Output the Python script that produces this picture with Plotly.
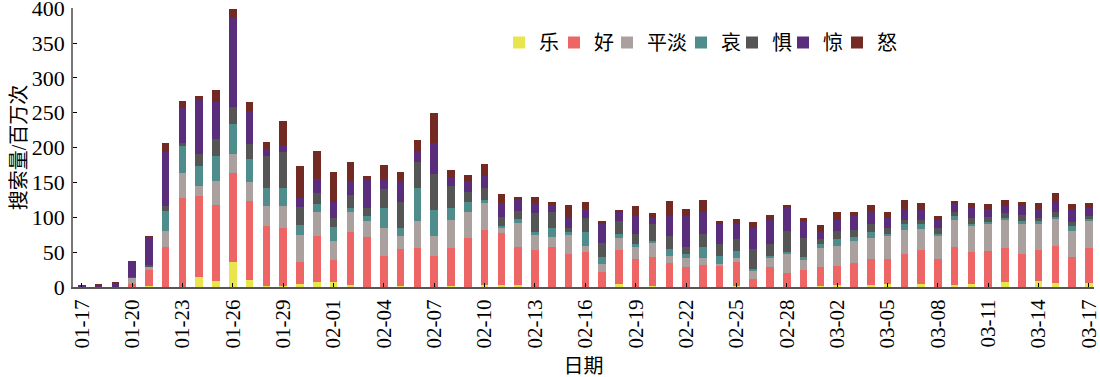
import pandas as pd
import plotly.graph_objects as go

dates = [d.strftime("%m-%d") for d in pd.date_range("2020-01-17", "2020-03-17")]

le = [0, 0, 0, 0, 2, 0, 0, 15, 9, 36, 10, 2, 2, 5, 7.5, 7, 3, 0, 0, 2, 0, 0, 2, 0, 3, 3, 3, 0, 0, 0,
      0, 0, 5, 0, 1.5, 0, 0, 0, 0, 2, 0, 0, 0, 0, 2, 2.5, 0, 2.5, 5, 0, 5, 0, 2.5, 5, 0, 6.5, 0, 8, 6, 0, 6]
hao = [0, 0.5, 0, 4, 23, 58, 128, 115, 108, 127, 114, 85, 83, 31, 66, 32, 76, 72, 45, 52, 56, 44, 54, 70, 79, 75, 54, 53, 58, 47,
       50, 22, 48, 40, 42, 34, 29, 31, 31, 34, 12, 29, 20, 24.5, 27, 27, 34, 38, 35, 48, 48, 40, 55, 45, 51, 50, 47, 45, 53, 43, 50]
pingdan = [0, 0, 0, 9, 3, 22, 35, 15, 35, 28, 26, 29, 31, 39, 33.5, 26.5, 28, 23, 39, 19, 39, 29, 40, 38, 38, 6, 35, 23, 14, 28,
           9, 11, 17.5, 18.5, 19, 10.5, 13, 11, 2.5, 6, 10.5, 13.5, 27, 14, 27, 30, 32, 30, 32.5, 34.5, 30, 32.5, 38, 37, 39, 39, 43, 37, 38, 38, 39]
ai = [0, 0, 0, 0, 0, 29, 39, 29, 36, 42.5, 33, 25.5, 25.5, 14, 12, 20, 6, 7, 30, 12, 47, 38, 18, 14, 5, 3, 6, 2.5, 13, 3.5,
      19.5, 10.5, 5, 2.5, 3.5, 10, 5, 15, 10.5, 9.5, 4, 1.5, 3.5, 5, 5, 9, 6, 8.5, 3, 8, 8, 4, 6, 3.5, 3.5, 4, 4, 5, 3.5, 6, 2.5]
ju = [0, 0, 0, 1, 3, 7, 5, 17.5, 25, 25, 22, 46, 52, 26, 15.5, 13, 19.5, 11, 27, 37, 38, 50.5, 31, 14, 17, 14, 11, 28, 23, 5.5,
      20, 19, 18.5, 15.5, 25, 19, 11, 18.5, 17.5, 17, 28, 18, 30, 26.5, 8.5, 12.5, 9.5, 11.5, 9, 5.5, 5.5, 8.5, 5.5, 8.5, 7.5, 7, 9.5, 4.5, 7, 6.5, 4.5]
jing = [3, 2, 6, 23, 41, 77, 49.5, 78, 53, 127, 47, 11, 9, 12, 21, 23, 20, 42, 14, 30.5, 15.5, 44.5, 11, 16, 17.5, 20, 15.5, 13.5, 9, 15,
        14, 28, 13, 25, 8, 28.5, 43.5, 32.5, 29, 22, 30, 34, 34.5, 24, 10, 15, 20, 18.5, 14, 16.5, 14.5, 10.5, 12.5, 14, 11.5, 9.5, 13, 12, 16.5, 19, 12]
nu = [0, 1, 0.5, 0, 0.5, 13, 10, 4, 16.5, 13, 14, 9.5, 35, 47, 39, 44, 27, 4, 19.5, 12.5, 16, 44, 12, 8, 16.5, 13, 4, 8.5, 5.5, 18,
      9.5, 3.5, 3.5, 15, 7, 21, 10.5, 16.5, 4, 6.5, 8.5, 7.5, 2.5, 5, 10, 12, 5.5, 8.5, 9.5, 12, 9, 7, 4.5, 7.5, 7, 9, 5.5, 9, 10.5, 7, 6.5]

series_names = ["乐", "好", "平淡", "哀", "惧", "惊", "怒"]
series_values = [le, hao, pingdan, ai, ju, jing, nu]
colors = ["#e8e64c", "#ee6565", "#aaa19e", "#4f8c8c", "#555555", "#5a2c7c", "#732a22"]

# layout geometry (pixels)
W, H = 1100, 377
ML, MR, MT, MB = 73, 6, 8, 90
PW, PH = W - ML - MR, H - MT - MB
legend_px = [519, 574, 627, 701, 752, 803, 857]   # legend square centres
legend_py = 42.5

serif = "Liberation Serif"
cjk = "Liberation Serif, Noto Sans CJK SC"

fig = go.Figure()
legend_layout = {}
for k, (name, vals, col) in enumerate(zip(series_names, series_values, colors)):
    lname = "legend" if k == 0 else f"legend{k + 1}"
    fig.add_trace(go.Bar(x=dates, y=vals, name=name, legend=lname,
                         marker=dict(color=col, line=dict(width=0))))
    legend_layout[lname] = dict(
        x=(legend_px[k] - 20 - ML) / PW, xanchor="left",
        y=(H - MB - legend_py) / PH, yanchor="middle",
        orientation="h", font=dict(family=cjk, size=20, color="black"),
        bgcolor="rgba(0,0,0,0)", borderwidth=0, itemwidth=30)

tick_labels = dates[::3]

fig.update_layout(
    barmode="stack",
    bargap=0.55,
    width=W, height=H,
    margin=dict(l=ML, r=MR, t=MT, b=MB, autoexpand=False),
    plot_bgcolor="white", paper_bgcolor="white",
    font=dict(family=serif, size=20, color="black"),
    showlegend=True,
    xaxis=dict(type="category", tickmode="array", tickvals=tick_labels, ticktext=tick_labels,
               tickangle=-90, range=[-0.52, 60.3], showline=True, linecolor="#555555", linewidth=2,
               ticks="inside", ticklen=4, tickcolor="black", ticklabeloverflow="allow", automargin=False,
               tickfont=dict(family=serif, size=21), ticklabelstandoff=2,
               title=dict(text="日期", font=dict(family=cjk, size=20), standoff=13), showgrid=False),
    yaxis=dict(range=[0, 400.3], dtick=50, showline=True, linecolor="#777777", linewidth=1.5,
               ticks="inside", ticklen=4, tickcolor="black", ticklabeloverflow="allow", automargin=False,
               tickfont=dict(family=serif, size=22), ticklabelstandoff=2,
               title=dict(text="搜索量/百万次", font=dict(family=cjk, size=20), standoff=0), showgrid=False,
               zeroline=False),
    **legend_layout,
)

fig.write_html("out.html", config={"displayModeBar": False},
               post_script="document.body.style.margin='0px';")
